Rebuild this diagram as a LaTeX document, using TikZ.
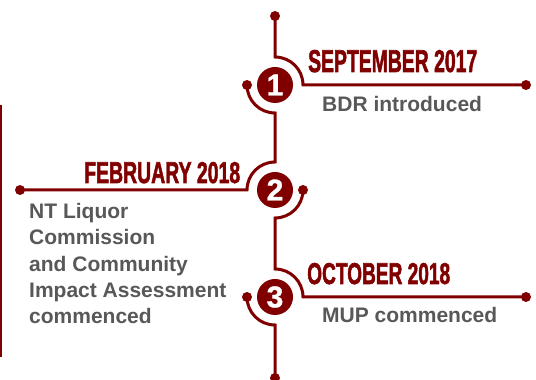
\documentclass[tikz,border=0pt]{standalone}
\usepackage{fontspec}
\setmainfont{Liberation Sans}
\newfontfamily\headfont{Liberation Sans}[BoldFeatures={FakeBold=2.2}]
\newfontfamily\numfont{Liberation Sans}[BoldFeatures={FakeBold=1.2}]
\definecolor{dred}{RGB}{128,0,0}
\definecolor{tgray}{RGB}{88,88,88}
\begin{document}
\begin{tikzpicture}[x=1pt,y=1pt,
  tl/.style={draw=dred, line width=3pt},
  dotc/.style={circle, fill=dred, inner sep=0pt, minimum size=10pt},
  numc/.style={circle, fill=dred, text=white, inner sep=0pt, minimum size=36pt, font=\numfont\fontsize{30}{30}\selectfont\bfseries},
  head/.style={anchor=base west, inner sep=0pt, text=dred},
  desc/.style={inner sep=0pt, text=tgray, font=\fontsize{21}{26.3}\selectfont\bfseries, align=left},
]
\useasboundingbox (0,0) rectangle (536,380);
% number circles
\node[numc] (n1) at (275,295) {1};
\node[numc] (n2) at (275,190) {2};
\node[numc] (n3) at (275,83) {3};
% end dots
\node[dotc] (t) at (275,364) {};
\node[dotc] (d1r) at (526,295) {};
\node[dotc] (d1l) at (247,295) {};
\node[dotc] (d2l) at (20,190) {};
\node[dotc] (d2r) at (303,190) {};
\node[dotc] (d3r) at (526,83) {};
\node[dotc] (d3l) at (247,83) {};
\node[dotc] (b) at (275,2) {};
% timeline
\draw[tl] (t.center) -- ([yshift=28pt]n1.center) arc[start angle=90,end angle=0,radius=28pt] -- (d1r.center);
\draw[tl] (d1l.center) arc[start angle=180,end angle=270,radius=28pt] -- ([yshift=28pt]n2.center) arc[start angle=90,end angle=180,radius=28pt] -- (d2l.center);
\draw[tl] (d2r.center) arc[start angle=0,end angle=-90,radius=28pt] -- ([yshift=28pt]n3.center) arc[start angle=90,end angle=0,radius=28pt] -- (d3r.center);
\draw[tl] (d3l.center) arc[start angle=180,end angle=270,radius=28pt] -- (b.center);
% left border line
\coordinate (lt) at (1,275);
\coordinate (lb) at (1,23);
\draw[dred, line width=1.5pt] (lt) -- (lb);
% texts
\node[head] (h1) at (308,308) {\resizebox{169pt}{22pt}{\headfont\bfseries SEPTEMBER 2017}};
\node[desc, anchor=base west] (t1) at (322,268) {BDR introduced};
\node[head] (h2) at (84,197) {\resizebox{156pt}{21pt}{\headfont\bfseries FEBRUARY 2018}};
\node[desc, anchor=north west] (t2) at (29,177) {NT Liquor\\Commission\\and Community\\Impact Assessment\\commenced};
\node[head] (h3) at (307,96) {\resizebox{143pt}{21pt}{\headfont\bfseries OCTOBER 2018}};
\node[desc, anchor=base west] (t3) at (322,57) {MUP commenced};
\end{tikzpicture}
\end{document}
